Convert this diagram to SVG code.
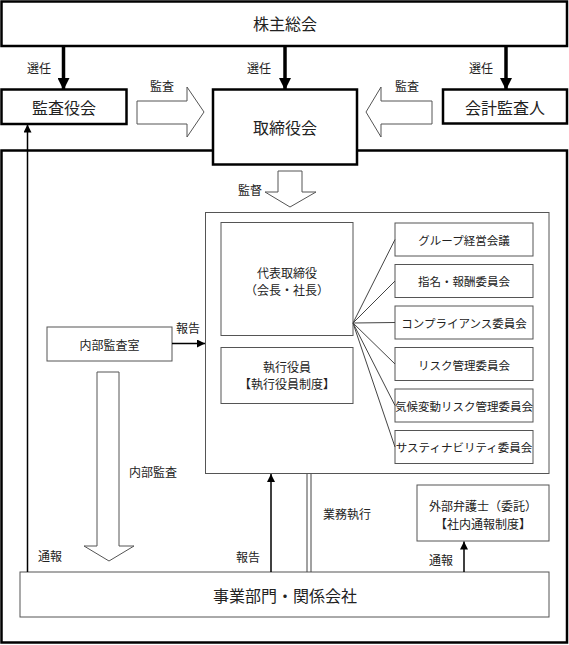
<svg xmlns="http://www.w3.org/2000/svg" width="569" height="645" viewBox="0 0 569 645">
<defs>
<style>
text{font-family:"Noto Sans CJK JP","Noto Sans CJK SC",sans-serif;fill:#222;text-anchor:middle;dominant-baseline:central}
.big{font-size:16px}
.mid{font-size:12px}
.sm{font-size:11.5px}
.thick{fill:#fff;stroke:#000;stroke-width:2.5}
.thin{fill:#fff;stroke:#555;stroke-width:1}
.hollow{fill:#fff;stroke:#555;stroke-width:1}
.bar{stroke:#000;stroke-width:3.5;fill:none}
.ln{stroke:#000;stroke-width:1.5;fill:none}
.gl{stroke:#444;stroke-width:1;fill:none}
</style>
<marker id="ah" viewBox="0 0 12 12" refX="11" refY="6" markerWidth="12" markerHeight="12" markerUnits="userSpaceOnUse" orient="auto">
<path d="M0,0 L12,6 L0,12 Z" fill="#000"/>
</marker>
<marker id="as" viewBox="0 0 8 8" refX="8" refY="4" markerWidth="8" markerHeight="8" markerUnits="userSpaceOnUse" orient="auto">
<path d="M0,0 L8,4 L0,8 Z" fill="#000"/>
</marker>
</defs>
<rect width="569" height="645" fill="#fff"/>

<g id="outer-frame"><rect class="thick" x="1.5" y="150.5" width="565.5" height="492"/></g>

<g id="shareholders"><rect class="thick" x="1.5" y="1.5" width="565.5" height="44.5"/><text class="big" x="285" y="23">株主総会</text></g>
<g id="audit-board"><rect class="thick" x="1.5" y="89.5" width="125" height="34.5"/><text class="big" x="64" y="107">監査役会</text></g>
<g id="accounting-auditor"><rect class="thick" x="443" y="89.5" width="124" height="34"/><text class="big" x="505" y="107">会計監査人</text></g>
<g id="board"><rect class="thick" x="213" y="89.5" width="144" height="75"/><text class="big" x="285" y="127">取締役会</text></g>

<g id="exec-area"><rect class="thin" x="205.5" y="212.5" width="343.5" height="261"/></g>
<g id="ceo"><rect class="thin" x="221" y="222.5" width="132" height="113"/><text class="mid" x="287" y="272">代表取締役</text><text class="mid" x="287" y="289">（会長・社長）</text></g>
<g id="officers"><rect class="thin" x="221" y="347.5" width="132" height="56"/><text class="mid" x="287" y="366">執行役員</text><text class="mid" x="287" y="383">【執行役員制度】</text></g>

<g id="c1"><rect class="thin" x="395" y="223" width="138" height="33"/><text class="sm" x="464" y="240">グループ経営会議</text></g>
<g id="c2"><rect class="thin" x="395" y="264.5" width="138" height="33"/><text class="sm" x="464" y="281">指名・報酬委員会</text></g>
<g id="c3"><rect class="thin" x="395" y="306" width="138" height="33"/><text class="sm" x="464" y="323">コンプライアンス委員会</text></g>
<g id="c4"><rect class="thin" x="395" y="347.5" width="138" height="33"/><text class="sm" x="464" y="364.5">リスク管理委員会</text></g>
<g id="c5"><rect class="thin" x="395" y="389" width="138" height="33"/><text class="sm" x="464" y="406">気候変動リスク管理委員会</text></g>
<g id="c6"><rect class="thin" x="395" y="430.5" width="138" height="33"/><text class="sm" x="464" y="447">サスティナビリティ委員会</text></g>

<g id="internal-audit"><rect class="thin" x="47" y="327" width="125" height="34"/><text class="mid" x="109.5" y="344">内部監査室</text></g>
<g id="lawyer"><rect class="thin" x="417" y="485" width="132" height="56"/><text class="mid" x="483" y="505">外部弁護士（委託）</text><text class="mid" x="483" y="523">【社内通報制度】</text></g>
<g id="business"><rect class="thin" x="20" y="572" width="529" height="45"/><text class="big" x="285" y="595">事業部門・関係会社</text></g>

<g id="connectors">
<line class="bar" x1="63.5" y1="46" x2="63.5" y2="89" marker-end="url(#ah)"/>
<line class="bar" x1="285" y1="46" x2="285" y2="89" marker-end="url(#ah)"/>
<line class="bar" x1="506" y1="46" x2="506" y2="89" marker-end="url(#ah)"/>
<polygon class="hollow" points="137,101 187,101 187,87 204,112 187,137 187,124 137,124"/>
<polygon class="hollow" points="432,101 381,101 381,87 366,112 381,137 381,124 432,124"/>
<polygon class="hollow" points="278,171 302,171 302,192 316,192 290,207 265,192 278,192"/>
<polygon class="hollow" points="97,372 119,372 119,546 134,546 109,561 84,546 97,546"/>
<line class="ln" x1="27.5" y1="572" x2="27.5" y2="124.5" marker-end="url(#as)"/>
<line class="ln" x1="172" y1="343.5" x2="205" y2="343.5" marker-end="url(#as)"/>
<line class="ln" x1="271" y1="572" x2="271" y2="474" marker-end="url(#as)"/>
<line class="ln" x1="464" y1="572" x2="464" y2="541.5" marker-end="url(#as)"/>
<line class="gl" x1="307" y1="474" x2="307" y2="572"/>
<line class="gl" x1="311" y1="474" x2="311" y2="572"/>
<line class="gl" x1="353" y1="323" x2="395" y2="239.5"/>
<line class="gl" x1="353" y1="323" x2="395" y2="281"/>
<line class="gl" x1="353" y1="323" x2="395" y2="322.5"/>
<line class="gl" x1="353" y1="323" x2="395" y2="364"/>
<line class="gl" x1="353" y1="323" x2="395" y2="405.5"/>
<line class="gl" x1="353" y1="323" x2="395" y2="447"/>
</g>

<g id="labels">
<text class="mid" x="39" y="67">選任</text>
<text class="mid" x="259" y="67">選任</text>
<text class="mid" x="481" y="67">選任</text>
<text class="mid" x="162" y="85">監査</text>
<text class="mid" x="407" y="85">監査</text>
<text class="mid" x="250" y="189">監督</text>
<text class="mid" x="188" y="327">報告</text>
<text class="mid" x="153" y="471">内部監査</text>
<text class="mid" x="50" y="555">通報</text>
<text class="mid" x="248" y="556">報告</text>
<text class="mid" x="347" y="513">業務執行</text>
<text class="mid" x="441" y="559">通報</text>
</g>
</svg>
